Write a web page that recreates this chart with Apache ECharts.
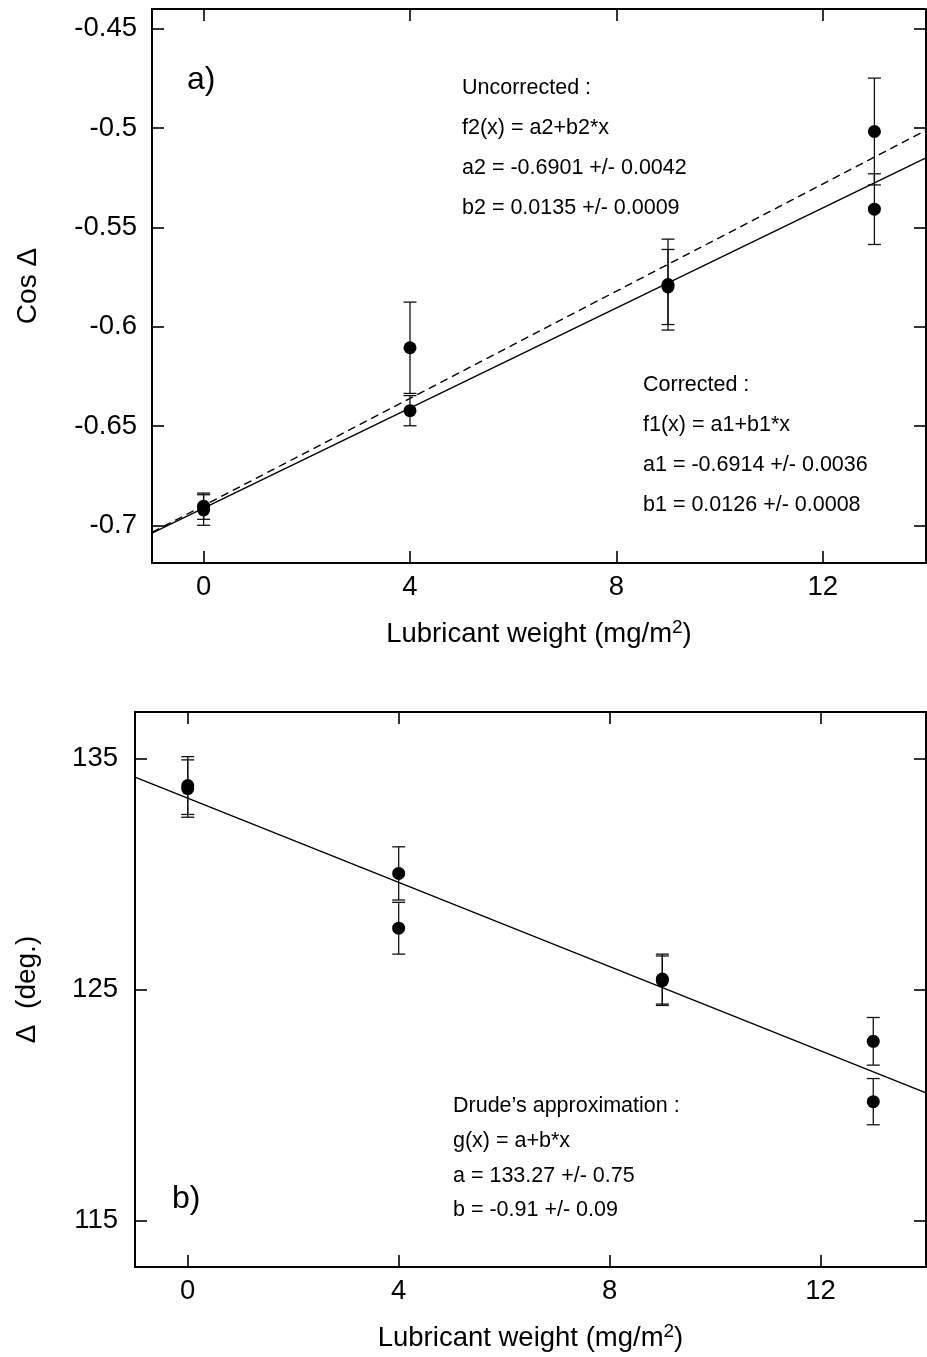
<!DOCTYPE html>
<html>
<head>
<meta charset="utf-8">
<script src="https://cdn.jsdelivr.net/npm/echarts@6/dist/echarts.min.js"></script>
<style>
html,body{margin:0;padding:0;background:#fff;}
#chart{width:927px;height:1357px;}
</style>
</head>
<body>
<div id="chart"></div>
<script>
// ---- Data ----
const xTicks = [0, 4, 8, 12];
const topYTicks = [-0.7, -0.65, -0.6, -0.55, -0.5, -0.45];
const botYTicks = [115, 125, 135];

// Panel a) Cos Δ vs lubricant weight (two measurements per weight)
const topX   = [0, 0, 4, 4, 9, 9, 13, 13];
const topY   = [-0.6904, -0.6923, -0.6106, -0.6423, -0.5788, -0.5800, -0.5017, -0.5408];
const topErr = [0.0066, 0.0077, 0.0230, 0.0076, 0.0229, 0.0189, 0.0269, 0.0178];

// Fits: corrected (solid) and uncorrected (dashed)
const fitCorrected   = [-0.6914, 0.0126];   // a1, b1
const fitUncorrected = [-0.6901, 0.0135];   // a2, b2

// Panel b) Δ (deg.) vs lubricant weight
const botX   = [0, 0, 4, 4, 9, 9, 13, 13];
const botY   = [133.82, 133.69, 130.02, 127.65, 125.45, 125.38, 122.76, 120.15];
const botErr = [1.25, 1.24, 1.15, 1.12, 1.08, 1.07, 1.03, 1.00];

// Drude's approximation fit
const fitDrude = [133.27, -0.91];   // a, b

const xRange = [-1, 14];

// ---- Build ----
const FONT = 'Liberation Sans';
const zip = (xs, ys, es) => xs.map((x, i) => es ? [x, ys[i], es[i]] : [x, ys[i]]);
const fitLine = (p) => xRange.map(x => [x, p[0] + p[1] * x]);

function errRender(params, api) {
  const x = api.value(0), y = api.value(1), e = api.value(2);
  const t = api.coord([x, y + e]), b = api.coord([x, y - e]);
  const w = 6.5;
  const st = {stroke: '#111', lineWidth: 1.3};
  return {type: 'group', children: [
    {type: 'line', shape: {x1: t[0], y1: t[1], x2: b[0], y2: b[1]}, style: st},
    {type: 'line', shape: {x1: t[0] - w, y1: t[1], x2: t[0] + w, y2: t[1]}, style: st},
    {type: 'line', shape: {x1: b[0] - w, y1: b[1], x2: b[0] + w, y2: b[1]}, style: st}
  ]};
}

const axisLine = {show: true, onZero: false, lineStyle: {color: '#000', width: 2}};
const tick = (vals) => ({show: true, inside: true, length: 12, lineStyle: {color: '#000', width: 1.6}, customValues: vals});
const labelStyle = {color: '#000', fontFamily: FONT, fontSize: 27.5};

function xAxes(gi, nameGap) {
  return [
    {gridIndex: gi, type: 'value', min: xRange[0], max: xRange[1], position: 'bottom',
     axisLine, axisTick: tick(xTicks), splitLine: {show: false},
     axisLabel: Object.assign({margin: 10, customValues: xTicks}, labelStyle),
     name: 'Lubricant weight (mg/m{sup|2})', nameLocation: 'middle', nameGap: nameGap,
     nameTextStyle: {color: '#000', fontFamily: FONT, fontSize: 27.5, lineHeight: 32,
       rich: {sup: {fontFamily: FONT, fontSize: 19, verticalAlign: 'top', lineHeight: 19, color: '#000'}}}},
    {gridIndex: gi, type: 'value', min: xRange[0], max: xRange[1], position: 'top',
     axisLine, axisTick: tick(xTicks), splitLine: {show: false}, axisLabel: {show: false}}
  ];
}
function yAxes(gi, mn, mx, ticks, name, nameGap, margin) {
  return [
    {gridIndex: gi, type: 'value', min: mn, max: mx, position: 'left',
     axisLine, axisTick: tick(ticks), splitLine: {show: false},
     axisLabel: Object.assign({margin: margin, customValues: ticks}, labelStyle),
     name: name, nameLocation: 'middle', nameGap: nameGap, nameRotate: 90,
     nameTextStyle: {color: '#000', fontFamily: FONT, fontSize: 28}},
    {gridIndex: gi, type: 'value', min: mn, max: mx, position: 'right',
     axisLine, axisTick: tick(ticks), splitLine: {show: false}, axisLabel: {show: false}}
  ];
}

const txt = (x, y, s, size) => ({type: 'text', x: x, y: y, silent: true,
  style: {text: s, fill: '#000', font: size + 'px "' + FONT + '"', textVerticalAlign: 'middle', textAlign: 'left'}});

const option = {
  animation: false,
  backgroundColor: '#fff',
  grid: [
    {left: 152, right: 1, top: 9, height: 554, containLabel: false},
    {left: 135, right: 1, top: 712, height: 555, containLabel: false}
  ],
  xAxis: [...xAxes(0, 55), ...xAxes(1, 55)],
  yAxis: [...yAxes(0, -0.719, -0.44, topYTicks, 'Cos Δ', 110, 15),
          ...yAxes(1, 113, 137, botYTicks, 'Δ  (deg.)', 94, 17)],
  series: [
    {type: 'line', xAxisIndex: 0, yAxisIndex: 0, data: fitLine(fitCorrected), showSymbol: false,
     lineStyle: {color: '#000', width: 1.4}, z: 2},
    {type: 'line', xAxisIndex: 0, yAxisIndex: 0, data: fitLine(fitUncorrected), showSymbol: false,
     lineStyle: {color: '#000', width: 1.4, type: [8, 5]}, z: 2},
    {type: 'custom', xAxisIndex: 0, yAxisIndex: 0, data: zip(topX, topY, topErr), renderItem: errRender,
     encode: {x: 0, y: 1}, z: 3},
    {type: 'scatter', xAxisIndex: 0, yAxisIndex: 0, data: zip(topX, topY), symbol: 'circle', symbolSize: 13,
     itemStyle: {color: '#000', opacity: 1}, z: 4},

    {type: 'line', xAxisIndex: 2, yAxisIndex: 2, data: fitLine(fitDrude), showSymbol: false,
     lineStyle: {color: '#000', width: 1.4}, z: 2},
    {type: 'custom', xAxisIndex: 2, yAxisIndex: 2, data: zip(botX, botY, botErr), renderItem: errRender,
     encode: {x: 0, y: 1}, z: 3},
    {type: 'scatter', xAxisIndex: 2, yAxisIndex: 2, data: zip(botX, botY), symbol: 'circle', symbolSize: 13,
     itemStyle: {color: '#000', opacity: 1}, z: 4}
  ],
  graphic: [
    txt(187, 80, 'a)', 32),
    txt(462, 88, 'Uncorrected :', 21.5),
    txt(462, 128, 'f2(x) = a2+b2*x', 21.5),
    txt(462, 168, 'a2 = -0.6901 +/- 0.0042', 21.5),
    txt(462, 208, 'b2 = 0.0135 +/- 0.0009', 21.5),
    txt(643, 385, 'Corrected :', 21.5),
    txt(643, 425, 'f1(x) = a1+b1*x', 21.5),
    txt(643, 465, 'a1 = -0.6914 +/- 0.0036', 21.5),
    txt(643, 505, 'b1 = 0.0126 +/- 0.0008', 21.5),
    txt(172, 1199, 'b)', 32),
    txt(453, 1106, 'Drude’s approximation :', 21.5),
    txt(453, 1141, 'g(x) = a+b*x', 21.5),
    txt(453, 1176, 'a = 133.27 +/- 0.75', 21.5),
    txt(453, 1210, 'b = -0.91 +/- 0.09', 21.5)
  ]
};

const chart = echarts.init(document.getElementById('chart'), null, {renderer: 'canvas'});
chart.setOption(option);
</script>
</body>
</html>
